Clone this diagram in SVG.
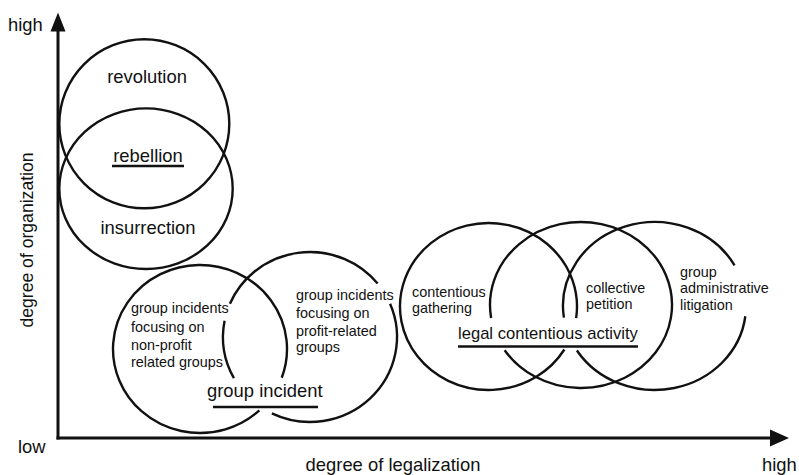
<svg xmlns="http://www.w3.org/2000/svg" width="799" height="475" viewBox="0 0 799 475">
<style>
  .c { fill: none; stroke: #111; stroke-width: 2.4; }
  .ul { stroke: #111; stroke-width: 2.6; }
  .ax { stroke: #111; stroke-width: 3; fill: none; }
  .ah { fill: #111; stroke: none; }
  text { fill: #111; font-family: "Liberation Sans", Arial, sans-serif; }
  .big { font-size: 18.4px; }
  .mid { font-size: 16.6px; }
  .sm { font-size: 14.4px; }
</style>
<rect width="799" height="475" fill="#fff"/>

<g id="axes">
  <line class="ax" x1="58" y1="439.5" x2="58" y2="28"/>
  <polygon class="ah" points="58,12.5 50.5,31.5 65.5,31.5"/>
  <line class="ax" x1="56.5" y1="438" x2="773" y2="438"/>
  <polygon class="ah" points="789,438 770,429.5 770,446.5"/>
  <text class="big" x="8" y="30.5">high</text>
  <text class="big" x="18" y="453">low</text>
  <text class="big" x="762" y="471">high</text>
  <text class="big" x="393" y="471" text-anchor="middle">degree of legalization</text>
  <text class="big" transform="translate(33,240) rotate(-90)" text-anchor="middle" style="font-size:17.6px">degree of organization</text>
</g>

<g id="revolution">
  <ellipse class="c" cx="144.3" cy="123.8" rx="85" ry="84.5"/>
  <text class="big" x="147" y="83.3" text-anchor="middle">revolution</text>
</g>
<g id="insurrection">
  <ellipse class="c" cx="146" cy="188.7" rx="86.7" ry="80.3"/>
  <text class="big" x="148" y="234.3" text-anchor="middle">insurrection</text>
</g>
<g id="rebellion">
  <text class="big" x="148" y="161.7" text-anchor="middle">rebellion</text>
  <line class="ul" x1="112" y1="166" x2="184" y2="166"/>
</g>

<g id="group-nonprofit">
  <path class="c" d="M 259.33 410.43 A 87 84 0 1 1 281.75 377.73"/>
  <text class="sm" x="131" y="313.3">group incidents</text>
  <text class="sm" x="131" y="331.7">focusing on</text>
  <text class="sm" x="131" y="350">non-profit</text>
  <text class="sm" x="131" y="367.3">related groups</text>
</g>
<g id="group-profit">
  <path class="c" d="M 390.08 303.79 A 87 85 0 0 1 271.86 413.40"/>
  <path class="c" d="M 233.91 378.21 A 87 85 0 0 1 224.60 320.78"/>
  <path class="c" d="M 229.92 303.79 A 87 85 0 0 1 377.61 283.51"/>
  <text class="sm" x="296" y="300">group incidents</text>
  <text class="sm" x="296" y="318">focusing on</text>
  <text class="sm" x="296" y="336">profit-related</text>
  <text class="sm" x="296" y="352">groups</text>
</g>
<g id="group-incident">
  <text class="big" x="207" y="397">group incident</text>
  <line class="ul" x1="213" y1="407" x2="318" y2="407"/>
</g>

<g id="contentious-gathering">
  <path class="c" d="M 564.36 349.50 A 88.5 83.5 0 1 1 576.14 318.12"/>
  <text class="sm" x="412" y="297">contentious</text>
  <text class="sm" x="412" y="313">gathering</text>
</g>
<g id="collective-petition">
  <path class="c" d="M 491.12 317.98 A 91 83 0 1 1 504.68 350.20"/>
  <text class="sm" x="586" y="293">collective</text>
  <text class="sm" x="586" y="309">petition</text>
</g>
<g id="administrative-litigation">
  <path class="c" d="M 745.32 316.24 A 91.5 84 0 0 1 576.91 350.51"/>
  <path class="c" d="M 563.89 317.69 A 91.5 84 0 0 1 734.53 265.28"/>
  <text class="sm" x="680" y="276.7">group</text>
  <text class="sm" x="680" y="293.3">administrative</text>
  <text class="sm" x="680" y="310">litigation</text>
</g>
<g id="legal-contentious-activity">
  <text class="mid" x="458" y="339">legal contentious activity</text>
  <line class="ul" x1="458" y1="346.5" x2="638" y2="346.5"/>
</g>
</svg>
